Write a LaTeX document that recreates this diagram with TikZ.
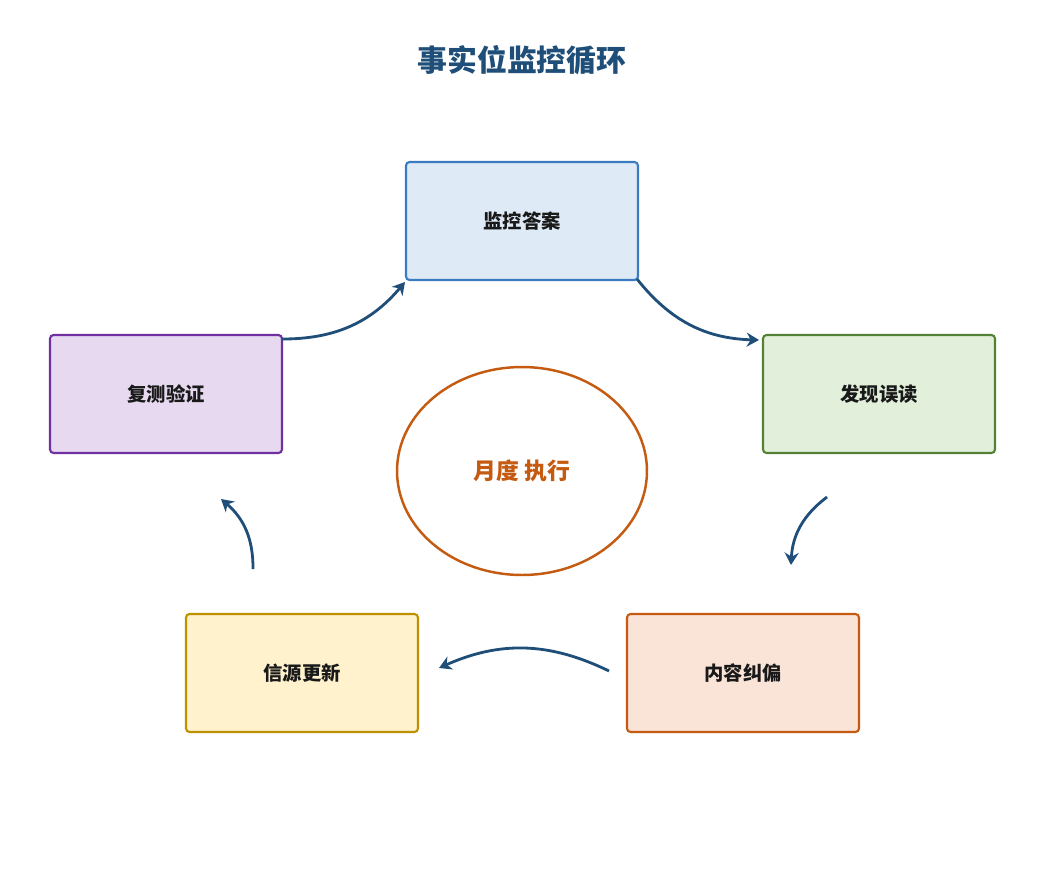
\documentclass[tikz,border=0pt]{standalone}
\usepackage{fontspec}
\setmainfont{Noto Sans CJK SC}
\usetikzlibrary{arrows.meta,shapes.geometric}
\definecolor{arrowblue}{HTML}{1F4E79}
\definecolor{bluefill}{HTML}{DEEAF6}\definecolor{blueline}{HTML}{3B7BBF}
\definecolor{greenfill}{HTML}{E2EFDA}\definecolor{greenline}{HTML}{548235}
\definecolor{orangefill}{HTML}{FAE3D7}\definecolor{orangeline}{HTML}{C55A11}
\definecolor{yellowfill}{HTML}{FFF2CC}\definecolor{yellowline}{HTML}{BF9000}
\definecolor{purplefill}{HTML}{E6D9F0}\definecolor{purpleline}{HTML}{7030A0}
\tikzset{
  stagebox/.style={draw, line width=1.2pt, rounded corners=2pt, minimum width=4.64cm,
    minimum height=2.36cm, font=\fontsize{11}{13}\selectfont\bfseries, text=black!90},
  flow/.style={draw=arrowblue, line width=1.6pt, -{Stealth[length=7pt,width=8pt]}, bend right=25}
}
\begin{document}
\begin{tikzpicture}[x=0.02cm,y=-0.02cm]
    \useasboundingbox (0,0) rectangle (1044,876);
    \node[font=\fontsize{17}{20}\selectfont\bfseries, text=arrowblue] (title) at (522,60) {事实位监控循环};
    \node[stagebox, fill=bluefill, draw=blueline] (monitor) at (522,221) {监控答案};
    \node[stagebox, fill=greenfill, draw=greenline] (detect) at (879,394) {发现误读};
    \node[stagebox, fill=orangefill, draw=orangeline] (correct) at (743,673) {内容纠偏};
    \node[stagebox, fill=yellowfill, draw=yellowline] (source) at (302,673) {信源更新};
    \node[stagebox, fill=purplefill, draw=purpleline] (retest) at (166,394) {复测验证};
    \node[ellipse, draw=orangeline, line width=1.4pt, minimum width=5cm, minimum height=4.16cm,
      font=\fontsize{13}{15}\selectfont\bfseries, text=orangeline] (monthly) at (522,471) {月度 执行};
    % free ends of the loop arrows
    \coordinate (a1) at (282,339);  \coordinate (a2) at (405,282);
    \coordinate (b1) at (637,279);  \coordinate (b2) at (759,340);
    \coordinate (c1) at (827,497);  \coordinate (c2) at (791,565);
    \coordinate (d1) at (609,671);  \coordinate (d2) at (439,668);
    \coordinate (e1) at (253,569);  \coordinate (e2) at (221,499);
    \draw[flow] (a1) to (a2);
    \draw[flow] (b1) to (b2);
    \draw[flow] (c1) to (c2);
    \draw[flow] (d1) to (d2);
    \draw[flow] (e1) to (e2);
\end{tikzpicture}
\end{document}
